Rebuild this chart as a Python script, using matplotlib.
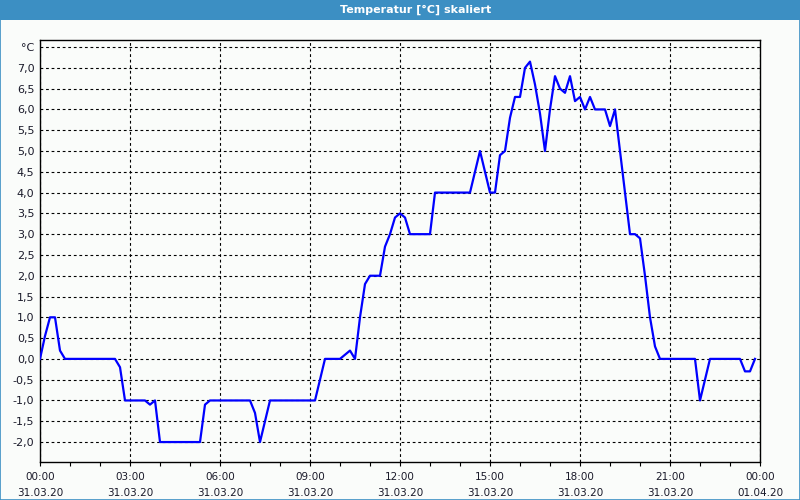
import numpy as np
import matplotlib
matplotlib.use('Agg')
import matplotlib.pyplot as plt
from matplotlib.patches import Rectangle
from matplotlib.ticker import FixedLocator, MultipleLocator

# minutes since 31.03.20 00:00
timeMin = [0, 10, 20, 30, 40, 50, 150, 160, 170, 210, 220, 230, 240, 320, 330, 340,
           420, 430, 440, 460, 550, 570, 600, 620, 630, 640, 650, 660, 680, 690, 700,
           710, 720, 730, 740, 780, 790, 860, 870, 880, 890, 900, 910, 920, 930, 940,
           950, 960, 970, 980, 990, 1000, 1010, 1020, 1030, 1040, 1050, 1060, 1070,
           1080, 1090, 1100, 1110, 1130, 1140, 1150, 1160, 1170, 1180, 1190, 1200,
           1210, 1220, 1230, 1240, 1310, 1320, 1330, 1340, 1400, 1410, 1420, 1430]
tempVal = [0.0, 0.55, 1.0, 1.0, 0.2, 0.0, 0.0, -0.2, -1.0, -1.0, -1.1, -1.0, -2.0, -2.0, -1.1, -1.0,
           -1.0, -1.3, -2.0, -1.0, -1.0, 0.0, 0.0, 0.2, 0.0, 1.0, 1.8, 2.0, 2.0, 2.7, 3.0,
           3.4, 3.5, 3.4, 3.0, 3.0, 4.0, 4.0, 4.5, 5.0, 4.5, 4.0, 4.0, 4.9, 5.0, 5.8,
           6.3, 6.3, 7.0, 7.15, 6.6, 5.9, 5.0, 6.0, 6.8, 6.5, 6.4, 6.8, 6.2,
           6.3, 6.0, 6.3, 6.0, 6.0, 5.6, 6.0, 5.0, 4.0, 3.0, 3.0, 2.9,
           2.0, 1.0, 0.3, 0.0, 0.0, -1.0, -0.5, 0.0, 0.0, -0.3, -0.3, 0.0]

xTickLabels = ['00:00\n31.03.20', '03:00\n31.03.20', '06:00\n31.03.20', '09:00\n31.03.20',
               '12:00\n31.03.20', '15:00\n31.03.20', '18:00\n31.03.20', '21:00\n31.03.20',
               '00:00\n01.04.20']
yTickVals = [-2.0, -1.5, -1.0, -0.5, 0.0, 0.5, 1.0, 1.5, 2.0, 2.5, 3.0, 3.5, 4.0,
             4.5, 5.0, 5.5, 6.0, 6.5, 7.0, 7.5]
titleText = 'Temperatur [°C] skaliert'


def make_plot():
    barBlue = '#3C8FC3'
    plt.rcParams['font.family'] = ['DejaVu Sans']

    fig = plt.figure(figsize=(8, 5), dpi=100, facecolor='#FAFCFA')

    # title bar + thin border
    fig.patches.append(Rectangle((0, 0.96), 1, 0.04, transform=fig.transFigure,
                                 facecolor=barBlue, edgecolor='none', zorder=0))
    fig.patches.append(Rectangle((0.0006, 0.001), 0.9988, 0.998, transform=fig.transFigure,
                                 facecolor='none', edgecolor=barBlue, linewidth=1.2, zorder=0))
    fig.text(0.519, 0.98, titleText, color='white', fontsize=8, fontweight='bold',
             ha='center', va='center')

    ax = fig.add_axes([0.05, 0.076, 0.9, 0.844])
    ax.set_facecolor('#FAFCFA')
    hours = np.array(timeMin) / 60.0
    ax.plot(hours, tempVal, color='#0000FF', linewidth=1.6, zorder=3)

    ax.set_xlim(0, 24)
    ax.set_ylim(-2.48, 7.67)

    ax.xaxis.set_major_locator(FixedLocator(np.arange(0, 25, 3)))
    ax.xaxis.set_minor_locator(MultipleLocator(1))
    ax.set_xticklabels(xTickLabels)
    ax.yaxis.set_major_locator(FixedLocator(yTickVals))
    ylabels = [('%.1f' % v).replace('.', ',') for v in yTickVals[:-1]] + ['°C']
    ax.set_yticklabels(ylabels)

    ax.tick_params(axis='x', which='both', direction='out', length=3, width=0.8,
                   color='black', labelsize=7.5, labelcolor='#1a1a2a', pad=4)
    ax.tick_params(axis='y', which='both', length=0, labelsize=8,
                   labelcolor='#1a1a2a', pad=4)
    for lab in ax.get_xticklabels():
        lab.set_linespacing(1.75)

    ax.grid(True, which='major', color='black', linestyle=(0, (2.5, 2.5)), linewidth=0.8)
    for s in ax.spines.values():
        s.set_color('black')
        s.set_linewidth(1.0)

    plt.savefig('out.png', dpi=100, facecolor=fig.get_facecolor())


make_plot()
